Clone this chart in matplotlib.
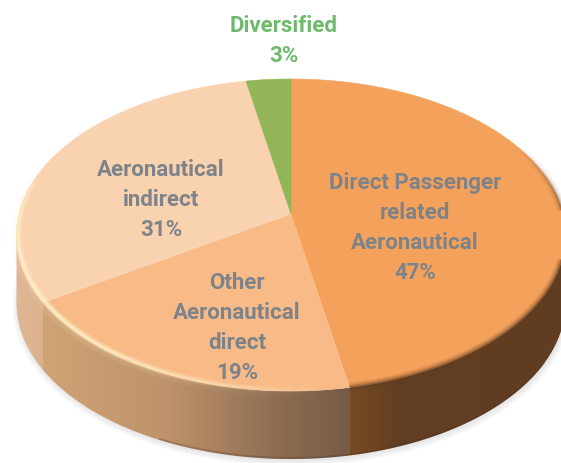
import matplotlib
matplotlib.use("Agg")
import matplotlib.pyplot as plt
import numpy as np
from matplotlib.collections import LineCollection
from matplotlib.patches import Polygon

# clockwise from 12 o'clock
values = [47, 19, 31, 3]
names = ["Direct Passenger\nrelated\nAeronautical", "Other\nAeronautical\ndirect",
         "Aeronautical\nindirect", "Diversified"]
top_colors = ["#f4a15c", "#f8bb88", "#f9d2b0", "#92b558"]
label_colors = ["#7d8388", "#7d8388", "#7d8388", "#6dbb6a"]
label_pos = [(415, 228), (237, 328), (161, 200), (284, 41)]

# wall colour stops: screen x -> rgb
wall_x = [[348, 400, 561], [47, 170, 280, 348], [0, 15, 47, 560]]
wall_rgb = [[(120, 76, 36), (98, 62, 34), (96, 60, 33)],
            [(208, 163, 118), (190, 146, 106), (140, 108, 82), (118, 92, 72)],
            [(224, 182, 148), (224, 182, 148), (220, 176, 140), (220, 176, 140)]]

# perspective of the disc
cx, cy = 291, 215
rx, ry = 272, 153.2
k = 0.1346
depth = 68


def project(t, r=1.0):
    # t clockwise from top, radians
    x = r * np.sin(t)
    y = r * np.cos(t)
    w = 1 + k * y
    return cx + rx * x / w, cy - ry * y / w


def rim(t0, t1, n=200, r=1.0):
    t = np.linspace(t0, t1, n)
    px, py = project(t, r)
    return np.column_stack([px, py])


fig = plt.figure(figsize=(5.61, 4.64), dpi=100)
ax = fig.add_axes([0, 0, 1, 1])

edges = np.cumsum([0] + values) / sum(values) * 2 * np.pi

# soft ground shadow
sh = rim(np.radians(75), np.radians(285), 300) + [0, depth]
for lw, dx, dy in [(7, 1, 2), (4, 1, 2), (2, 1, 1)]:
    ax.plot(sh[:, 0] + dx, sh[:, 1] + dy, color="#666666", alpha=0.05, lw=lw, zorder=1,
            solid_capstyle="round")

# side wall: one gradient over the front half, slices meet at vertical seams
xs = np.arange(0, 561) + 0.5
seam0 = project(edges[1])[0]
seam1 = project(edges[2])[0]
grad = np.zeros((1, len(xs), 3))
for i, mask in enumerate([xs >= seam0, (xs >= seam1) & (xs < seam0), xs < seam1]):
    rgb = np.array(wall_rgb[i], dtype=float) / 255
    for c in range(3):
        grad[0, mask, c] = np.interp(xs[mask], wall_x[i], rgb[:, c])

tt = np.radians(np.linspace(0, 360, 1441))
tipx = project(tt)[0]
t_right = tt[np.argmax(tipx)]
t_left = tt[np.argmin(tipx)]
outer = rim(t_right, t_left, 400)
band = Polygon(np.vstack([outer, outer[::-1] + [0, depth]]), closed=True, facecolor="none", edgecolor="none")
ax.add_patch(band)
im = ax.imshow(grad, extent=(0, 561, 464, 0), aspect="auto", zorder=2, interpolation="nearest")
im.set_clip_path(band)

# darker line along the foot of the wall, only towards the front
foot = rim(np.radians(120), np.radians(205), 200) + [0, depth - 1]
ax.plot(foot[:, 0], foot[:, 1], color="#4a3322", alpha=0.25, lw=1.5, zorder=3)

# top face
for i in range(len(values)):
    pts = np.vstack([[cx, cy], rim(edges[i], edges[i + 1], 160)])
    ax.add_patch(Polygon(pts, closed=True, facecolor=top_colors[i], edgecolor=top_colors[i],
                         lw=0.4, zorder=4))

# dark soft edge on the big slice
for lw, al in [(7, 0.10), (5, 0.14), (3, 0.25), (1.5, 0.35)]:
    e = rim(np.radians(62), edges[1], 160)
    segs = np.stack([e[:-1], e[1:]], axis=1)
    fade = np.clip(np.linspace(0, 1, len(segs)) * 3, 0, 1)
    c = np.zeros((len(segs), 4))
    c[:, :3] = (0.38, 0.24, 0.13)
    c[:, 3] = al * fade
    ax.add_collection(LineCollection(segs, colors=c, linewidths=lw, zorder=5))

# pale highlight on the rim of the other slices
for lw, al, r in [(8, 0.12, 1.0), (5, 0.25, 0.994), (3, 0.5, 0.994), (1.5, 0.6, 0.994)]:
    e = rim(edges[1] + np.radians(4), np.radians(292), 200, r)
    segs = np.stack([e[:-1], e[1:]], axis=1)
    s = np.linspace(0, 1, len(segs))
    fade = np.clip(s * 2.5, 0, 1) * np.clip((1 - s) * 4, 0, 1)
    c = np.ones((len(segs), 4))
    c[:, :3] = (1.0, 0.94, 0.78)
    c[:, 3] = al * fade
    ax.add_collection(LineCollection(segs, colors=c, linewidths=lw, zorder=5))

for name, val, col, pos in zip(names, values, label_colors, label_pos):
    ax.text(pos[0], pos[1], "%s\n%d%%" % (name, val), color=col, ha="center", va="center",
            family="Roboto", weight="bold", fontsize=16, linespacing=1.465, zorder=6)

ax.set_xlim(0, 561)
ax.set_ylim(464, 0)
ax.axis("off")

fig.savefig("out.png", dpi=100)
